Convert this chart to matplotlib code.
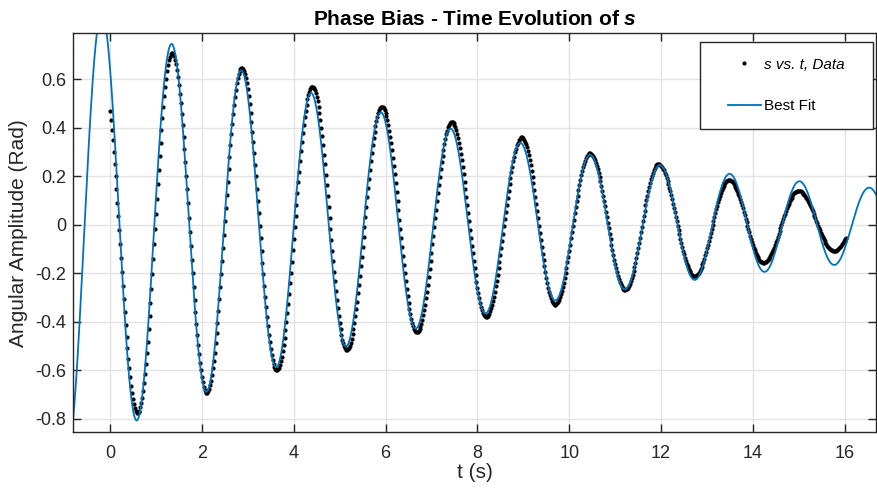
import numpy as np
import matplotlib
matplotlib.use("Agg")
import matplotlib.pyplot as plt
from matplotlib.lines import Line2D
from matplotlib.legend_handler import HandlerLine2D

plt.rcParams['font.family'] = ['Liberation Sans', 'DejaVu Sans']
plt.rcParams['mathtext.fontset'] = 'custom'
plt.rcParams['mathtext.it'] = 'Liberation Sans:bold:italic'
plt.rcParams['axes.unicode_minus'] = False

# Measured peaks / troughs of s(t), read off the picture (t in s, s in rad)
# first entry: peak just before recording starts, last: peak just after it ends
t_extrema = [-0.16, 0.60, 1.35, 2.105, 2.868, 3.63, 4.406, 5.155, 5.92, 6.68,
             7.44, 8.19, 8.965, 9.69, 10.45, 11.22, 11.94, 12.73, 13.48,
             14.23, 14.99, 15.77, 16.55]
s_extrema = [0.617, -0.777, 0.71, -0.694, 0.649, -0.601, 0.57, -0.516, 0.487,
             -0.444, 0.425, -0.381, 0.361, -0.330, 0.295, -0.268, 0.250,
             -0.211, 0.185, -0.156, 0.140, -0.108, 0.13]
t_start = 0.0
t_end = 16.02
dt = 0.02

# Best fit parameters: s = A exp(-g t) cos(w t - phi)
fit_amp = 0.858
fit_decay = 0.1042
fit_omega = 4.136
fit_phase = 5.563

# samples of the recording, shaped half a cycle at a time between extrema
t_data = np.arange(t_start, t_end + dt / 2, dt)
te = np.array(t_extrema)
se = np.array(s_extrema)
k = np.clip(np.searchsorted(te, t_data) - 1, 0, len(te) - 2)
frac = (t_data - te[k]) / (te[k + 1] - te[k])
s_data = se[k] + (se[k + 1] - se[k]) * (1 - np.cos(np.pi * frac)) / 2

t_fit = np.linspace(-0.9, 16.8, 2000)
s_fit = fit_amp * np.exp(-fit_decay * t_fit) * np.cos(fit_omega * t_fit - fit_phase)

fig = plt.figure(figsize=(8.77, 4.90), dpi=100)
ax = fig.add_axes([73.3 / 877, 1 - 432 / 490, (876 - 73.3) / 877, (432 - 33.3) / 490])

txt = '#262626'
ax.plot(t_data, s_data, 'o', color='black', markersize=3.0, markeredgewidth=0,
        label='s vs. t, Data   ')
ax.plot(t_fit, s_fit, '-', color='#0072BD', linewidth=1.3, label='Best Fit')

ax.set_xlim(-0.8, 16.68)
ax.set_ylim(-0.855, 0.79)
ax.set_xticks(np.arange(0, 17, 2))
ax.set_yticks([-0.8, -0.6, -0.4, -0.2, 0, 0.2, 0.4, 0.6])
ax.set_yticklabels(['-0.8', '-0.6', '-0.4', '-0.2', '0', '0.2', '0.4', '0.6'])

ax.grid(True, color='#e3e3e3', linewidth=1.0)
ax.set_axisbelow(True)
ax.tick_params(direction='in', length=6, width=1.0, colors=txt, labelsize=13,
               top=True, right=True)
ax.tick_params(axis='x', pad=9)
ax.tick_params(axis='y', pad=5)
for sp in ax.spines.values():
    sp.set_color(txt)
    sp.set_linewidth(1.0)

ax.set_title('Phase Bias - Time Evolution of $s$', fontsize=15,
             fontweight='bold', color='black', pad=6)
ax.set_xlabel('t (s)', fontsize=15, color=txt, labelpad=1)
ax.set_ylabel('Angular Amplitude (Rad)', fontsize=15, color=txt, labelpad=5)

leg = ax.legend(loc='upper right', bbox_to_anchor=(873 / 877, 1 - 41.7 / 490),
                bbox_transform=fig.transFigure, borderaxespad=0,
                fontsize=11, frameon=True, fancybox=False, edgecolor=txt,
                framealpha=1, borderpad=1.05, labelspacing=1.8,
                handlelength=2.9, handletextpad=0.2, numpoints=1,
                handler_map={Line2D: HandlerLine2D(xpad=0.78)})
leg.get_frame().set_linewidth(1.0)
leg.get_texts()[0].set_fontstyle('italic')
for t in leg.get_texts():
    t.set_color('black')

fig.savefig('out.png', dpi=100)
